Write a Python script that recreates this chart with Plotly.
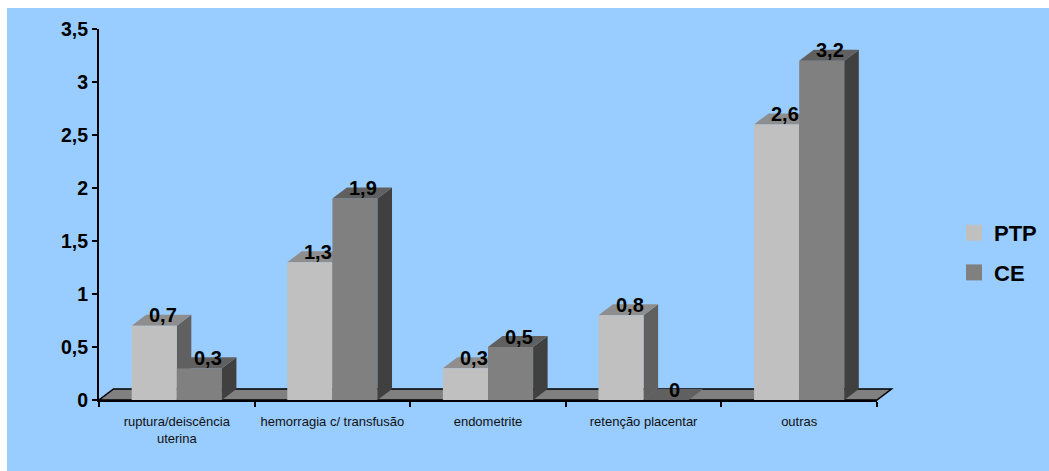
import plotly.graph_objects as go

# ---- data ----
categories = ["ruptura/deiscência<br>uterina", "hemorragia c/ transfusão",
              "endometrite", "retenção placentar", "outras"]
series_names = ["PTP", "CE"]
ptp = [0.7, 1.3, 0.3, 0.8, 2.6]
ce = [0.3, 1.9, 0.5, 0.0, 3.2]
y_ticks = [0, 0.5, 1, 1.5, 2, 2.5, 3, 3.5]

# ---- styling / geometry ----
W, H = 1049, 471
ML, MR, MT, MB = 99, 172, 29, 71
PW, PH = W - ML - MR, H - MT - MB
YMAX = 3.5
BARGAP = 0.42
BAR_W = (1 - BARGAP) / 2
DEPTH_X_PX, DEPTH_Y_PX = 14.5, 11
DX = DEPTH_X_PX / (PW / len(categories))
DY = DEPTH_Y_PX / (PH / YMAX)

colors = {
    "PTP": {"front": "#C0C0C0", "top": "#8E8E8E", "side": "#606060"},
    "CE": {"front": "#808080", "top": "#606060", "side": "#404040"},
}
BG = "#99CCFF"
FONT = "Liberation Sans, Arial, sans-serif"


def fmt(v):
    s = ("%g" % v)
    return s.replace(".", ",")


fig = go.Figure()

for name, vals in zip(series_names, [ptp, ce]):
    fig.add_trace(go.Bar(
        x=categories, y=vals, name=name, showlegend=False,
        marker=dict(color=colors[name]["front"], line=dict(width=0)),
        hoverinfo="skip",
    ))

# legend entries
for name in series_names:
    fig.add_trace(go.Scatter(
        x=[None], y=[None], mode="markers", name=name, legendgroup=name,
        marker=dict(symbol="square", size=16, color=colors[name]["front"]),
    ))

shapes = []
# white border strips at top and left like the reference
shapes.append(dict(type="rect", xref="paper", yref="paper", layer="below",
                   x0=-ML / PW - 0.01, x1=(W - ML) / PW + 0.01,
                   y0=(PH + MT - 8) / PH, y1=(PH + MT) / PH + 0.02,
                   fillcolor="white", line=dict(width=0)))
shapes.append(dict(type="rect", xref="paper", yref="paper", layer="below",
                   x0=-ML / PW - 0.01, x1=(7 - ML) / PW,
                   y0=-MB / PH - 0.02, y1=(PH + MT) / PH + 0.02,
                   fillcolor="white", line=dict(width=0)))
# floor
fx, fy = DEPTH_X_PX / PW, DEPTH_Y_PX / PH
shapes.append(dict(type="path", xref="x domain", yref="y domain", layer="below",
                   path=f"M 0,0 L 1,0 L {1 + fx},{fy} L {fx},{fy} Z",
                   fillcolor="#808080", line=dict(color="black", width=1.5)))

annotations = []
for si, (name, vals) in enumerate(zip(series_names, [ptp, ce])):
    layer = "below" if si == 0 else "above"
    for i, v in enumerate(vals):
        xl = i - BAR_W if si == 0 else i
        xr = xl + BAR_W
        # side face
        shapes.append(dict(type="path", xref="x", yref="y", layer=layer,
                           path=f"M {xr},0 L {xr + DX},{DY} L {xr + DX},{v + DY} L {xr},{v} Z",
                           fillcolor=colors[name]["side"], line=dict(width=0)))
        # top face
        shapes.append(dict(type="path", xref="x", yref="y", layer=layer,
                           path=f"M {xl},{v} L {xr},{v} L {xr + DX},{v + DY} L {xl + DX},{v + DY} Z",
                           fillcolor=colors[name]["top"], line=dict(width=0)))
        annotations.append(dict(x=(xl + xr) / 2 + DX / 2 + 0.008, y=v + DY - 0.005,
                                xref="x", yref="y", text=fmt(v), showarrow=False,
                                yanchor="middle", xanchor="center",
                                font=dict(family=FONT, size=20, color="black", weight="bold")))

fig.update_layout(
    width=W, height=H,
    margin=dict(l=ML, r=MR, t=MT, b=MB, pad=0, autoexpand=False),
    paper_bgcolor=BG, plot_bgcolor="rgba(0,0,0,0)",
    barmode="group", bargap=BARGAP, bargroupgap=0,
    separators=",.",
    shapes=shapes, annotations=annotations,
    showlegend=True,
    legend=dict(x=(954 - ML) / PW, y=(PH - (212 - MT)) / PH, xanchor="left", yanchor="top",
                bgcolor="rgba(0,0,0,0)", borderwidth=0, tracegroupgap=8,
                font=dict(family=FONT, size=22, color="black", weight="bold")),
    font=dict(family=FONT, color="black"),
)
fig.update_xaxes(type="category", categoryorder="array", categoryarray=categories,
                 range=[-0.5, len(categories) - 0.5], automargin=False, tickangle=0,
                 showline=True, linecolor="black", linewidth=2,
                 ticks="outside", ticklen=5, tickwidth=2, tickcolor="black",
                 tickson="boundaries", showgrid=False, zeroline=False,
                 ticklabelstandoff=8,
                 tickfont=dict(family=FONT, size=13, color="#111111"))
fig.update_yaxes(range=[0, YMAX], tickmode="array", tickvals=y_ticks, automargin=False,
                 ticktext=[fmt(t) for t in y_ticks],
                 showline=True, linecolor="black", linewidth=2,
                 ticks="outside", ticklen=5, tickwidth=2, tickcolor="black",
                 showgrid=False, zeroline=False,
                 tickfont=dict(family=FONT, size=19.5, color="black", weight="bold"))

fig.write_html("out.html")
